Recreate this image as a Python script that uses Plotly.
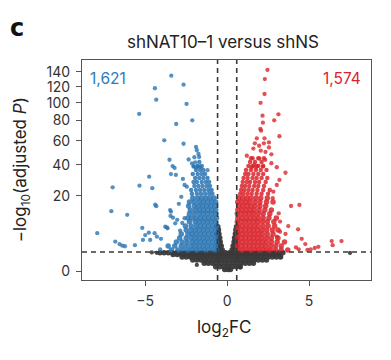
import numpy as np
import plotly.graph_objects as go

# ---------------- data (log2FC, -log10 adjusted P) -------------
# individually visible blue (down-regulated) points
blue_pts = [(-3.41, 134.8), (-4.41, 118), (-2.66, 122.6), (-4.33, 103.7), (-2.48, 98.6),
            (-5.37, 87.2), (-2.13, 80.3), (-3.11, 76.4), (-3.84, 60.4), (-2.66, 57.3),
            (-1.9, 54.4), (-1.85, 51.6), (-1.71, 46), (-2.0, 45.8), (-3.52, 43.8),
            (-3.33, 39), (-3.21, 37.6), (-2.05, 38.5), (-1.9, 38.0), (-1.78, 38.8),
            (-1.65, 38.2), (-3.13, 32.7), (-3.43, 33.3), (-4.76, 31.5), (-6.99, 24.8),
            (-5.35, 25.8), (-4.57, 24.3), (-7.07, 12.7), (-6.1, 11.2), (-4.39, 15.6),
            (-4.33, 14.9), (-5.18, 6.6), (-4.78, 5.25), (-4.43, 5.1), (-7.93, 5.1),
            (-6.83, 3.1), (-6.57, 2.6), (-6.4, 2.3), (-6.24, 2.2), (-5.63, 2.4),
            (-5.14, 3.45), (-4.04, 3.7), (-4.09, 1.7), (-3.48, 13.2), (-3.43, 12.5),
            (-3.46, 10.8), (-3.78, 7), (-3.64, 6.5), (-3.05, 9.3), (-3.17, 8.1),
            (-2.87, 5.8), (-2.74, 8.2), (-2.6, 9.9), (-5.0, 4.6), (-4.7, 3.45),
            (-4.29, 4.2), (-3.68, 6.8), (-3.31, 10.1), (-2.6, 26.2), (-2.46, 25.2),
            (-2.15, 41), (-2.05, 39), (-1.95, 41.8), (-2.8, 19.5), (-2.95, 16.0),
            (-2.7, 30.0), (-1.2, 36.0), (-2.35, 44.0), (-1.75, 48.5)]

# individually visible red (up-regulated) points
red_pts = [(2.46, 142.8), (2.3, 130.2), (2.28, 110.7), (2.04, 100), (2.16, 85.3),
           (3.13, 86.8), (2.87, 80.3), (2.18, 77.8), (2.03, 71.3), (2.07, 69.6),
           (3.19, 64.2), (1.81, 62.3), (2.28, 62.3), (2.24, 57.7), (1.69, 57.7),
           (2.05, 51.2), (2.34, 50.1), (2.7, 48.2), (1.45, 45), (1.97, 44.8),
           (2.32, 43.7), (2.7, 41.1), (1.66, 39.8), (1.91, 39.1), (2.18, 38.6),
           (3.03, 38.1), (1.5, 38.1), (1.77, 38.1), (3.56, 34.2), (3.19, 29.4),
           (3.03, 26.2), (2.82, 22.3), (2.78, 18.8), (3.9, 15), (4.41, 15.5),
           (3.15, 11.8), (3.23, 8.7), (3.73, 7.2), (4.33, 6.2), (3.56, 4.9),
           (3.23, 5.5), (3.03, 4.2), (4.55, 3.7), (4.77, 2.6), (6.38, 3.2),
           (6.44, 2.4), (6.98, 3.2), (4.9, 1.6), (5.1, 1.7), (5.35, 1.9),
           (5.57, 2.1), (4.37, 1.7), (4.2, 2.0), (1.6, 53.0), (1.95, 55.5),
           (2.55, 54.0), (1.2, 47.0), (2.55, 58.5)]

# dense cores, read row by row (-log10 P level, log2FC values seen on that level)
blue_core_p = [1.6, 2.25, 3.0, 3.9, 4.9, 6.0, 7.2, 8.6, 10.0, 11.6, 13.2, 15.0,
               16.9, 18.9, 21.1, 23.3, 25.6, 28.1, 30.7, 33.3, 36.1, 39.0, 42.0]
blue_core_fc = [
    [-0.65, -0.9, -1.15, -1.4, -1.65, -1.9, -2.15, -2.4, -2.7, -3.0, -3.4],
    [-0.7, -0.95, -1.2, -1.45, -1.7, -1.95, -2.2, -2.5, -2.8, -3.2, -3.6],
    [-0.65, -0.9, -1.15, -1.4, -1.65, -1.9, -2.15, -2.45, -2.75, -3.1],
    [-0.7, -0.95, -1.2, -1.45, -1.7, -1.95, -2.2, -2.5, -2.9],
    [-0.65, -0.9, -1.15, -1.4, -1.65, -1.9, -2.15, -2.4, -2.8],
    [-0.7, -0.95, -1.2, -1.45, -1.7, -1.95, -2.2, -2.5],
    [-0.65, -0.9, -1.15, -1.4, -1.65, -1.9, -2.2, -2.55],
    [-0.7, -0.95, -1.2, -1.45, -1.7, -1.95, -2.3],
    [-0.65, -0.9, -1.15, -1.4, -1.65, -1.9, -2.15, -2.4],
    [-0.7, -0.95, -1.2, -1.45, -1.7, -2.0, -2.3],
    [-0.7, -0.95, -1.2, -1.45, -1.7, -1.95, -2.25],
    [-0.75, -1.0, -1.25, -1.5, -1.75, -2.0, -2.35],
    [-0.7, -0.95, -1.2, -1.45, -1.7, -2.0, -2.3],
    [-0.8, -1.05, -1.3, -1.55, -1.8, -2.1],
    [-0.9, -1.1, -1.35, -1.6, -1.85, -2.15],
    [-0.95, -1.15, -1.4, -1.65, -1.9, -2.2],
    [-1.05, -1.25, -1.5, -1.75, -2.0],
    [-1.1, -1.3, -1.55, -1.85, -2.05],
    [-1.2, -1.45, -1.7, -1.95],
    [-1.35, -1.55, -1.8, -2.1],
    [-1.45, -1.65, -1.9],
    [-1.55, -1.8],
    [-1.7],
]

red_core_p = [1.6, 2.25, 3.0, 3.9, 4.9, 6.0, 7.2, 8.6, 10.0, 11.6, 13.2, 15.0, 16.9,
              18.9, 21.1, 23.3, 25.6, 28.1, 30.7, 33.3, 36.1, 39.0, 42.0, 45.0]
red_core_fc = [
    [0.65, 0.9, 1.15, 1.4, 1.65, 1.9, 2.15, 2.4, 2.65, 2.95, 3.3, 3.7],
    [0.62, 0.87, 1.12, 1.37, 1.62, 1.87, 2.12, 2.37, 2.65, 2.95, 3.3],
    [0.65, 0.9, 1.15, 1.4, 1.65, 1.9, 2.15, 2.4, 2.7, 3.05, 3.5],
    [0.62, 0.87, 1.12, 1.37, 1.62, 1.87, 2.12, 2.4, 2.7, 3.1],
    [0.65, 0.9, 1.15, 1.4, 1.65, 1.9, 2.15, 2.45, 2.8],
    [0.62, 0.87, 1.12, 1.37, 1.62, 1.87, 2.12, 2.4, 2.75, 3.1],
    [0.65, 0.9, 1.15, 1.4, 1.65, 1.9, 2.2, 2.5, 2.9],
    [0.62, 0.87, 1.12, 1.37, 1.62, 1.87, 2.15, 2.45, 2.85],
    [0.65, 0.9, 1.15, 1.4, 1.65, 1.9, 2.2, 2.55, 3.0],
    [0.62, 0.87, 1.12, 1.37, 1.62, 1.9, 2.2, 2.6],
    [0.65, 0.9, 1.15, 1.4, 1.65, 1.95, 2.3, 2.7],
    [0.7, 0.95, 1.2, 1.45, 1.7, 2.0, 2.35],
    [0.65, 0.9, 1.15, 1.4, 1.7, 2.0, 2.4, 2.8],
    [0.7, 0.95, 1.2, 1.45, 1.75, 2.05, 2.45],
    [0.8, 1.0, 1.25, 1.5, 1.8, 2.1, 2.5],
    [0.85, 1.05, 1.3, 1.55, 1.85, 2.2, 2.6],
    [0.9, 1.1, 1.35, 1.65, 1.9, 2.25],
    [0.95, 1.2, 1.4, 1.7, 1.95, 2.35],
    [1.0, 1.25, 1.55, 1.8, 2.1, 2.45],
    [1.1, 1.3, 1.6, 1.9, 2.2],
    [1.15, 1.45, 1.75, 2.05, 2.4],
    [1.3, 1.55, 1.85, 2.2],
    [1.4, 1.7, 2.1],
    [1.55, 1.9, 2.25],
]

# non-significant (grey) points
grey_pts = [(3.3, 0.72), (7.5, 1.18), (-1.85, 0.14), (0.8, 0.05), (-4.3, 1.2),
            (-4.6, 1.25)]
grey_core_p = [1.6, 1.6, 1.6, 2.25, 3.0, 3.9, 4.9, 6.0, 7.0,
               1.22, 1.0, 0.72, 0.45, 0.22, 0.07, 0.01]
grey_core_fc = [
    [-0.3, 0.3], [-0.42, 0.42], [-0.52, 0.52],
    [-0.36, -0.47, -0.56, 0.36, 0.47, 0.56],
    [-0.42, -0.52, 0.42, 0.52],
    [-0.45, -0.55, 0.45, 0.55],
    [-0.5, -0.57, 0.5, 0.57],
    [-0.53, 0.53],
    [-0.57, 0.57],
    [-4.1, -3.85, -3.6, -3.35, -3.1, -2.85, -2.6, -2.35, -2.1, -1.85, -1.6, -1.35,
     -1.1, -0.85, -0.6, -0.35, -0.1, 0.15, 0.4, 0.65, 0.9, 1.15, 1.4, 1.65, 1.9,
     2.15, 2.4, 2.65, 2.9, 3.15, 3.4],
    [-3.3, -3.05, -2.8, -2.55, -2.3, -2.05, -1.8, -1.55, -1.3, -1.05, -0.8, -0.55,
     -0.3, -0.05, 0.2, 0.45, 0.7, 0.95, 1.2, 1.45, 1.7, 1.95, 2.2, 2.45, 2.7, 2.95,
     3.2],
    [-2.75, -2.5, -2.25, -2.0, -1.75, -1.5, -1.25, -1.0, -0.75, -0.5, -0.25, 0.0,
     0.25, 0.5, 0.75, 1.0, 1.25, 1.5, 1.75, 2.0, 2.25, 2.5, 2.75, 3.0, 3.25],
    [-2.1, -1.85, -1.6, -1.35, -1.1, -0.85, -0.6, -0.35, -0.1, 0.15, 0.4, 0.65, 0.9,
     1.15, 1.4, 1.65, 1.9, 2.15, 2.4],
    [-1.4, -1.15, -0.9, -0.65, -0.4, -0.15, 0.1, 0.35, 0.6, 0.85, 1.1, 1.35, 1.6],
    [-0.7, -0.45, -0.2, 0.05, 0.3, 0.55, 0.8],
    [-0.15, 0.05, 0.2],
]

n_down_label = "1,621"
n_up_label = "1,574"
y_ticks = [0, 20, 40, 60, 80, 100, 120, 140]
x_ticks = [-5, 0, 5]
fc_cut = 0.585
p_cut = 1.301


def unpack(points):
    return np.array([p[0] for p in points]), np.array([p[1] for p in points])


def expand(rows_p, rows_fc):
    fc, pv = [], []
    for p, row in zip(rows_p, rows_fc):
        fc.extend(row)
        pv.extend([p] * len(row))
    return np.array(fc), np.array(pv)


def tr(v):
    return np.sqrt(np.asarray(v, dtype=float))


FONT = "Inter, Liberation Sans, Arial, sans-serif"
GREY, BLUE, RED = "#3a3a3a", "#2a74b3", "#d9252b"

fig = go.Figure()


def add_points(xs, ys, col, op, core):
    ys = np.asarray(ys, dtype=float)
    if core:
        size = np.where(ys <= 20, 5.5, 4.5)
    else:
        size = 4.3
    fig.add_trace(go.Scatter(x=xs, y=tr(ys), mode="markers",
                             marker=dict(size=size, color=col, opacity=op, line=dict(width=0)),
                             hoverinfo="skip"))


add_points(*expand(grey_core_p, grey_core_fc), GREY, 0.95, True)
add_points(*unpack(grey_pts), GREY, 0.9, False)
add_points(*expand(blue_core_p, blue_core_fc), BLUE, 0.85, True)
add_points(*unpack(blue_pts), BLUE, 0.8, False)
add_points(*expand(red_core_p, red_core_fc), RED, 0.85, True)
add_points(*unpack(red_pts), RED, 0.8, False)

dash = dict(color="#3a3a3a", width=1.6, dash="5px,4px")
fig.add_shape(type="line", xref="paper", x0=0, x1=1, yref="y",
              y0=float(tr(p_cut)), y1=float(tr(p_cut)), line=dash, layer="above")
for xv in (-fc_cut, fc_cut):
    fig.add_shape(type="line", xref="x", x0=xv, x1=xv, yref="paper", y0=0, y1=1,
                  line=dash, layer="above")

fig.add_annotation(text=n_down_label, xref="paper", yref="paper", x=0.02, y=0.918,
                   xanchor="left", yanchor="middle", showarrow=False,
                   font=dict(family=FONT, size=15.5, color="#2b7bba"))
fig.add_annotation(text=n_up_label, xref="paper", yref="paper", x=0.972, y=0.918,
                   xanchor="right", yanchor="middle", showarrow=False,
                   font=dict(family=FONT, size=15.5, color="#e0222c"))
fig.add_annotation(text="−log<sub>10</sub>(adjusted <i>P</i>)", xref="paper", yref="paper",
                   x=-0.21, y=0.5, textangle=-90, xanchor="center", yanchor="middle",
                   showarrow=False, font=dict(family=FONT, size=17, color="#222"))
fig.add_annotation(text="log<sub>2</sub>FC", xref="paper", yref="paper",
                   x=0.49, y=-0.22, xanchor="center", yanchor="middle",
                   showarrow=False, font=dict(family=FONT, size=17, color="#222"))
fig.add_annotation(text="<b>c</b>", xref="paper", yref="paper",
                   x=-0.255, y=1.145, xanchor="left", yanchor="middle",
                   showarrow=False, font=dict(family="DejaVu Sans, sans-serif", size=24, color="#111"))
fig.add_annotation(text="shNAT10–1 versus shNS", xref="paper", yref="paper",
                   x=0.487, y=1.08, xanchor="center", yanchor="middle",
                   showarrow=False, font=dict(family=FONT, size=17, color="#222"))

axis_common = dict(showline=True, linecolor="#555", linewidth=1, mirror=True,
                   ticks="outside", ticklen=5, tickcolor="#555", tickwidth=1,
                   showgrid=False, zeroline=False, ticklabelstandoff=3,
                   tickfont=dict(family=FONT, size=14, color="#333"))
fig.update_xaxes(range=[-8.86, 8.78], tickvals=x_ticks, **axis_common)
fig.update_yaxes(range=[-0.52, 12.54], tickvals=tr(y_ticks).tolist(),
                 ticktext=[str(t) for t in y_ticks], **axis_common)

# the page body adds an 8px offset; the figure is sized to fit the window with it
fig.update_layout(
    width=383, height=352,
    margin=dict(l=74, r=20, t=52, b=80),
    paper_bgcolor="white", plot_bgcolor="white",
    showlegend=False,
)

fig.write_html("out.html")
